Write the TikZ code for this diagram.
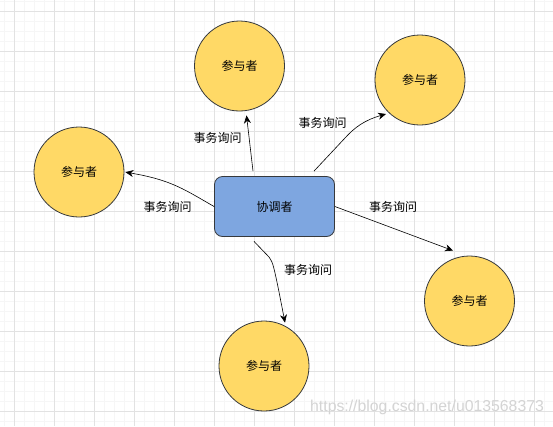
\documentclass[tikz,border=0pt]{standalone}
\usepackage{fontspec}
\setmainfont{Liberation Sans}
\newfontfamily\cjk{Noto Sans CJK SC}
\usetikzlibrary{arrows.meta,calc}
\definecolor{partfill}{HTML}{FFD966}
\definecolor{coordfill}{HTML}{7EA6E0}
\definecolor{outline}{HTML}{36393D}
\definecolor{minorgrid}{HTML}{F6F6F6}
\definecolor{majorgrid}{HTML}{E2E2E2}
\begin{document}
\begin{tikzpicture}[x=1pt,y=-1pt,
  part/.style={circle,draw=outline,line width=0.8pt,fill=partfill,minimum size=90pt,inner sep=0pt,font=\cjk\fontsize{12}{14}\selectfont},
  coordbox/.style={rectangle,rounded corners=8pt,draw=outline,line width=0.8pt,fill=coordfill,minimum width=120pt,minimum height=60pt,inner sep=0pt,font=\cjk\fontsize{12}{14}\selectfont},
  arr/.style={-{Stealth[length=8pt,width=7pt]},black,line width=0.6pt},
  lbl/.style={font=\cjk\fontsize{12}{14}\selectfont,inner sep=0pt}]
\fill[white] (0,0) rectangle (553,426);
\useasboundingbox (0,0) rectangle (553,426);
% grid
\foreach \x in {4,14,...,553} \draw[minorgrid,line width=0.6pt] (\x,0) -- (\x,426);
\foreach \y in {1,11,...,426} \draw[minorgrid,line width=0.6pt] (0,\y) -- (553,\y);
\foreach \x in {14,54,...,553} \draw[majorgrid,line width=0.8pt] (\x,0) -- (\x,426);
\foreach \y in {11,51,...,426} \draw[majorgrid,line width=0.8pt] (0,\y) -- (553,\y);
% nodes
\node[part] (p1) at (239.5,66) {参与者};
\node[part] (p2) at (420,80) {参与者};
\node[part] (p3) at (79,172) {参与者};
\node[part] (p4) at (469.5,301) {参与者};
\node[part] (p5) at (264,366) {参与者};
\node[coordbox] (c) at (274.5,206.5) {协调者};
% connectors
\draw[arr] ([shift={(-21.5,-5)}]c.north) -- ([shift={(7,4)}]p1.south);
\draw[arr] ([shift={(39.5,-5)}]c.north) -- (345,138) .. controls (355,127) and (365,120) .. ([shift={(-34,34)}]p2.center);
\draw[arr,shorten >=1pt] (c.west) .. controls (185,190) and (172,180) .. (p3.east);
\draw[arr] (c.east) -- ([shift={(-16.5,-5)}]p4.north);
\draw[arr] ([shift={(-20.5,4.5)}]c.south) -- (269,257) .. controls (273,262) and (274,266) .. ([shift={(21,2)}]p5.north);
% labels
\node[lbl] (l1) at (217.5,137.5) {事务询问};
\node[lbl] (l2) at (322.5,122.5) {事务询问};
\node[lbl] (l3) at (167.5,207) {事务询问};
\node[lbl] (l4) at (393,207) {事务询问};
\node[lbl] (l5) at (308,270) {事务询问};
% watermark
\node[anchor=base west,inner sep=0pt,font=\fontsize{15.8}{18}\selectfont,text=black!17] (wm) at (310,411) {https://blog.csdn.net/u013568373};
\end{tikzpicture}
\end{document}
